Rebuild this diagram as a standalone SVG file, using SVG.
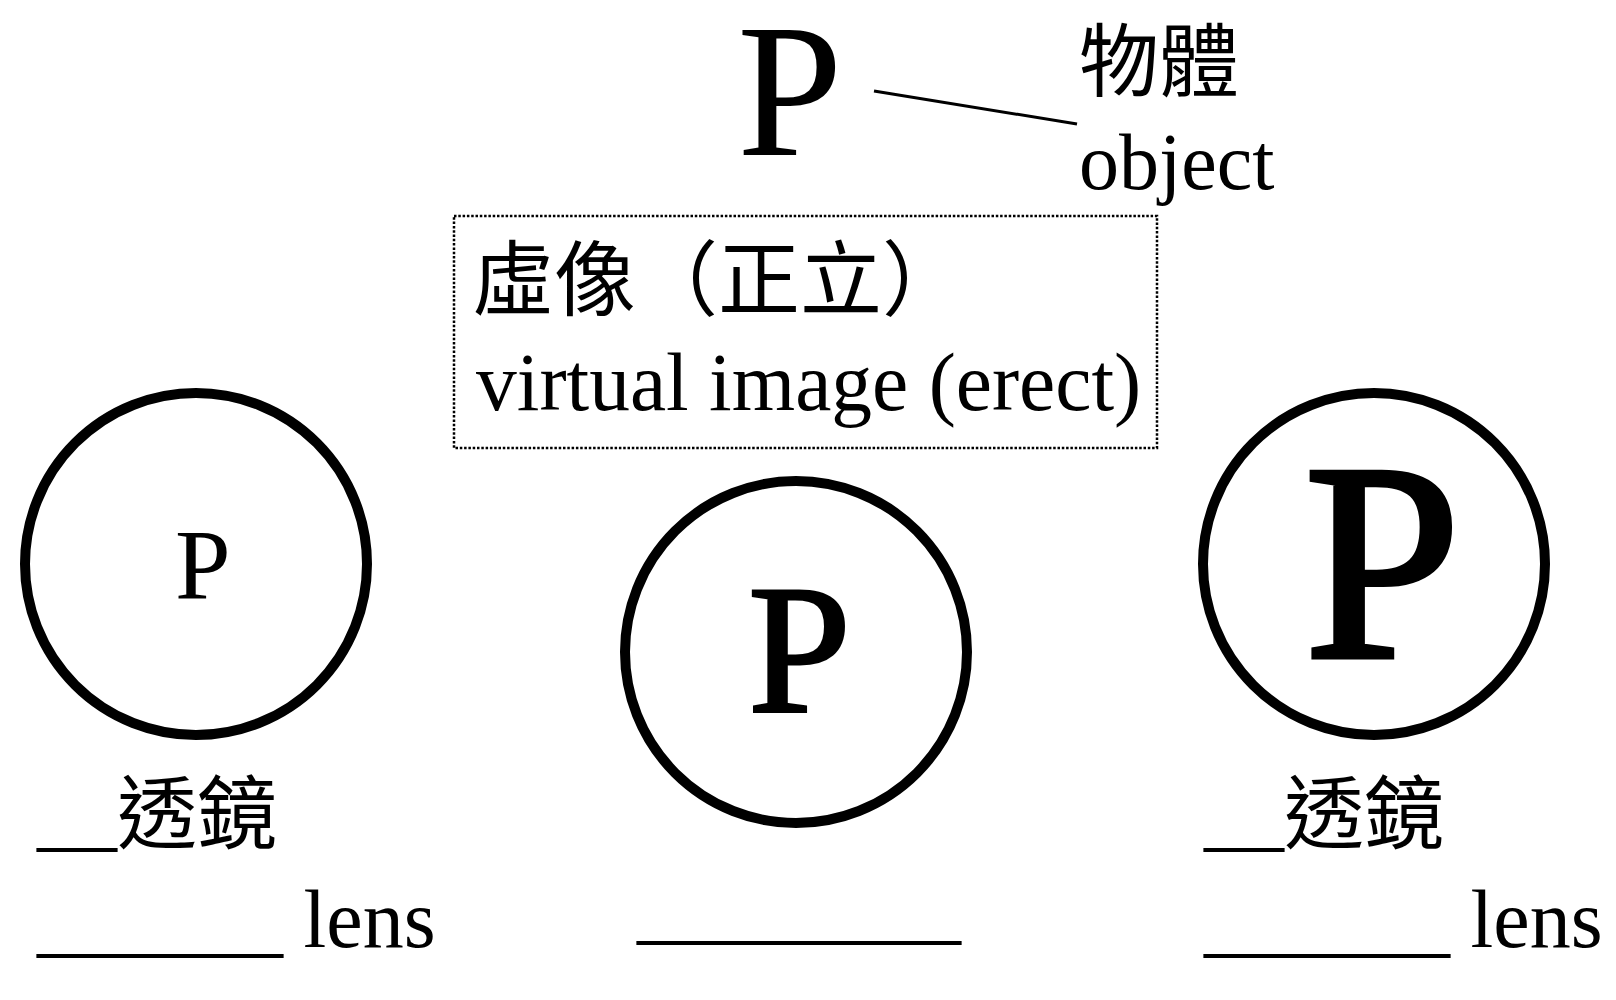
<svg xmlns="http://www.w3.org/2000/svg" width="1616" height="1000" viewBox="0 0 1616 1000">
<style>
.t{font-family:"Liberation Serif","Noto Sans CJK TC",serif;fill:#000}
.c{font-family:"Noto Sans CJK TC","Noto Sans CJK SC",sans-serif;fill:#000}
.lens{fill:none;stroke:#000;stroke-width:10}
.heavy{stroke:#000}
</style>
<rect width="1616" height="1000" fill="#fff"/>
<g id="object">
<text class="t" x="737" y="155" font-size="190">P</text>
<text class="c" x="1079" y="90" font-size="80">物體</text>
<text class="t" x="1079" y="189" font-size="80">object</text>
</g>
<g id="connectors">
<line x1="874" y1="91" x2="1077" y2="124" stroke="#000" stroke-width="3"/>
</g>
<g id="virtual-image-label">
<rect x="454" y="216" width="703" height="232" fill="none" stroke="#000" stroke-width="2.5" stroke-dasharray="2.5,1.8"/>
<text class="c" x="472" y="309" font-size="82">虛像（正立）</text>
<text class="t" x="476" y="410" font-size="81.5">virtual image (erect)</text>
</g>
<g id="lens-left">
<circle class="lens" cx="196" cy="564" r="171"/>
<text class="t" x="175" y="598" font-size="100">P</text>
<text class="t" x="37" y="842" font-size="80">__透鏡</text>
<text class="t" x="37" y="947" font-size="82">______ lens</text>
</g>
<g id="lens-middle">
<circle class="lens" cx="796" cy="652" r="171"/>
<text class="t heavy" x="748" y="711" font-size="185" stroke-width="3">P</text>
<text class="t" x="637" y="935" font-size="81">________</text>
</g>
<g id="lens-right">
<circle class="lens" cx="1374" cy="564" r="171"/>
<text class="t heavy" x="1304" y="657" font-size="282" stroke-width="5">P</text>
<text class="t" x="1204" y="842" font-size="80">__透鏡</text>
<text class="t" x="1204" y="947" font-size="82">______ lens</text>
</g>
</svg>
